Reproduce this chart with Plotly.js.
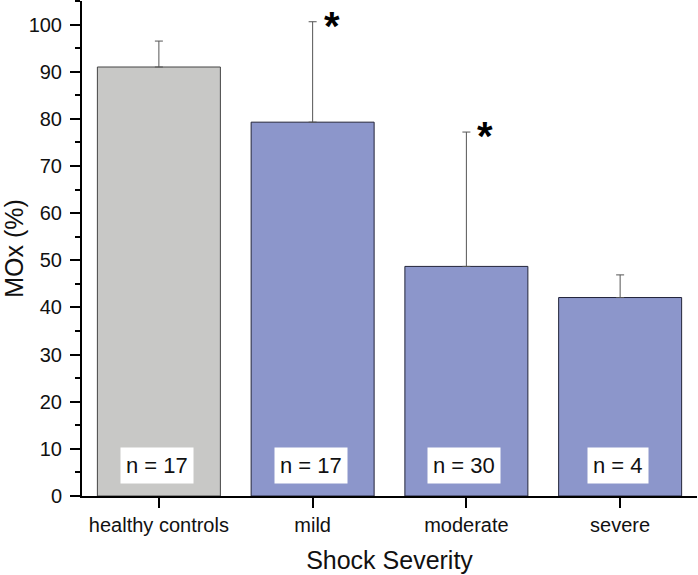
<!DOCTYPE html>
<html>
<head>
<meta charset="utf-8">
<script src="https://cdn.plot.ly/plotly-3.0.1.min.js"></script>
<style>html,body{margin:0;padding:0;background:#fff;}#chart{width:698px;height:575px;}</style>
</head>
<body>
<div id="chart"></div>
<script>
const categories = ["healthy controls", "mild", "moderate", "severe"];
const meanValues = [91.0, 79.3, 48.7, 42.1];
const errorPlus = [5.5, 21.3, 28.5, 4.8];
const nLabels = ["n = 17", "n = 17", "n = 30", "n = 4"];
const significant = [false, true, true, false];
const barColors = ["#c8c8c6", "#8c96cb", "#8c96cb", "#8c96cb"];
const lineColors = ["#444444", "#23253a", "#23253a", "#23253a"];

const FONT = "Liberation Sans, Arial, sans-serif";

const trace = {
  type: "bar",
  x: categories,
  y: meanValues,
  width: 0.8,
  marker: {color: barColors, line: {color: lineColors, width: 1}},
  error_y: {
    type: "data", symmetric: false,
    array: errorPlus, arrayminus: categories.map(() => 0),
    color: "#555555", thickness: 1, width: 4
  },
  hoverinfo: "skip"
};

const annotations = [];
categories.forEach((c, i) => {
  annotations.push({
    x: c, y: 6.4, xref: "x", yref: "y",
    text: nLabels[i], showarrow: false,
    font: {family: FONT, size: 22, color: "#111"},
    bgcolor: "#ffffff", borderpad: 5, xshift: -2
  });
  if (significant[i]) {
    annotations.push({
      x: c, y: meanValues[i] + errorPlus[i], xref: "x", yref: "y",
      text: "<b>*</b>", showarrow: false,
      font: {family: FONT, size: 40, color: "#000"},
      xanchor: "center", yanchor: "middle", xshift: 19, yshift: -4
    });
  }
});

const layout = {
  width: 698, height: 575,
  margin: {l: 82, r: 1, t: 1, b: 79},
  paper_bgcolor: "#fff", plot_bgcolor: "#fff",
  showlegend: false,
  font: {family: FONT, color: "#111"},
  xaxis: {
    type: "category", range: [-0.5, 3.5],
    showline: true, linecolor: "#000", linewidth: 2,
    ticks: "outside", ticklen: 10, tickwidth: 2, tickcolor: "#000",
    tickfont: {family: FONT, size: 20, color: "#111"},
    showgrid: false, zeroline: false,
    title: {text: "Shock Severity", font: {family: FONT, size: 25, color: "#111"}, standoff: 16}
  },
  yaxis: {
    range: [0, 105], dtick: 10, tick0: 0,
    showline: true, linecolor: "#000", linewidth: 2,
    ticks: "outside", ticklen: 10, tickwidth: 2, tickcolor: "#000",
    tickfont: {family: FONT, size: 20, color: "#111"},
    ticklabelstandoff: 4,
    minor: {dtick: 5, ticks: "outside", ticklen: 5, tickwidth: 2, tickcolor: "#000", showgrid: false},
    showgrid: false, zeroline: false,
    title: {text: "MOx (%)", font: {family: FONT, size: 25, color: "#111"}, standoff: 10}
  },
  annotations: annotations
};

Plotly.newPlot("chart", [trace], layout, {displayModeBar: false, staticPlot: true});
</script>
</body>
</html>
